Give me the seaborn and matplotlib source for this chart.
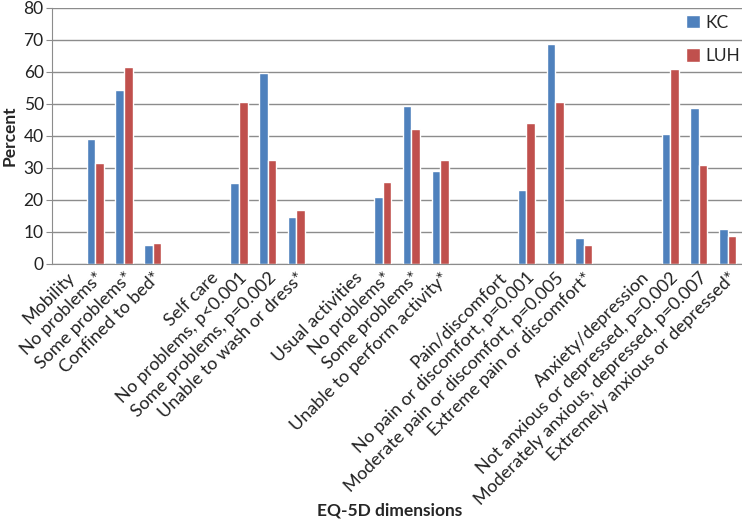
import numpy as np
import pandas as pd
import matplotlib
matplotlib.use("Agg")
import matplotlib.pyplot as plt
import seaborn as sns

# EQ-5D categories (headers and blank spacer slots carry no bars)
labels = ["Mobility", "No problems*", "Some problems*", "Confined to bed*", "",
          "Self care", "No problems, p<0.001", "Some problems, p=0.002", "Unable to wash or dress*", "",
          "Usual activities", "No problems*", "Some problems*", "Unable to perform activity*", "",
          "Pain/discomfort", "No pain or discomfort, p=0.001", "Moderate pain or discomfort, p=0.005",
          "Extreme pain or discomfort*", "",
          "Anxiety/depression", "Not anxious or depressed, p=0.002", "Moderately anxious, depressed, p=0.007",
          "Extremely anxious or depressed*"]
nan = np.nan
kc = [nan, 39.2, 54.5, 5.8, nan,
      nan, 25.3, 59.8, 14.8, nan,
      nan, 21.0, 49.5, 29.2, nan,
      nan, 23.2, 68.8, 8.0, nan,
      nan, 40.6, 48.7, 11.0]
luh = [nan, 31.5, 61.6, 6.7, nan,
       nan, 50.5, 32.5, 17.0, nan,
       nan, 25.6, 42.1, 32.5, nan,
       nan, 44.0, 50.6, 5.8, nan,
       nan, 60.8, 30.9, 8.6]
groups = ["KC", "LUH"]
yticks = list(range(0, 90, 10))

pos = list(range(len(labels)))
df = pd.DataFrame({
    "pos": pos * 2,
    "percent": kc + luh,
    "group": ["KC"] * len(pos) + ["LUH"] * len(pos),
})

sns.set_style("white")
plt.rcParams["font.family"] = ["Lato", "DejaVu Sans"]

fig = plt.figure(figsize=(7.42, 5.2), dpi=100)
ax = fig.add_axes([52 / 742, 1 - 264 / 520, 1 - 52 / 742, (264 - 8) / 520])

sns.barplot(data=df, x="pos", y="percent", hue="group", order=pos, hue_order=groups,
            palette=["#4F81BD", "#C0504D"], width=0.6, saturation=1, ax=ax)

ax.set_ylim(0, 80)
ax.set_yticks(yticks)
ax.set_yticklabels([str(t) for t in yticks], fontsize=12.5, color="#222222")
ax.yaxis.grid(True, color="#8c8c8c", linewidth=1)
ax.set_axisbelow(True)
ax.set_xlim(-0.5, len(labels) - 0.5)
ax.set_xticks(pos)
ax.set_xticklabels(labels, rotation=45, ha="right", rotation_mode="anchor",
                   fontsize=13, color="#222222")
ax.tick_params(axis="x", length=0, pad=4)
ax.tick_params(axis="y", length=4, color="#8c8c8c", left=True, pad=2)

for s in ["top", "right"]:
    ax.spines[s].set_visible(False)
for s in ["left", "bottom"]:
    ax.spines[s].set_color("#8c8c8c")

ax.set_ylabel("Percent", fontsize=12.5, fontweight="bold", labelpad=4)
ax.set_xlabel("EQ-5D dimensions", fontsize=12.5, fontweight="bold")
ax.xaxis.set_label_coords(0.49, -0.93)

ax.legend(loc="upper right", bbox_to_anchor=(1.02, 1.035), frameon=False, fontsize=12.5,
          handlelength=0.8, handleheight=0.8, labelspacing=1.0, handletextpad=0.3)

fig.savefig("out.png", dpi=100)
